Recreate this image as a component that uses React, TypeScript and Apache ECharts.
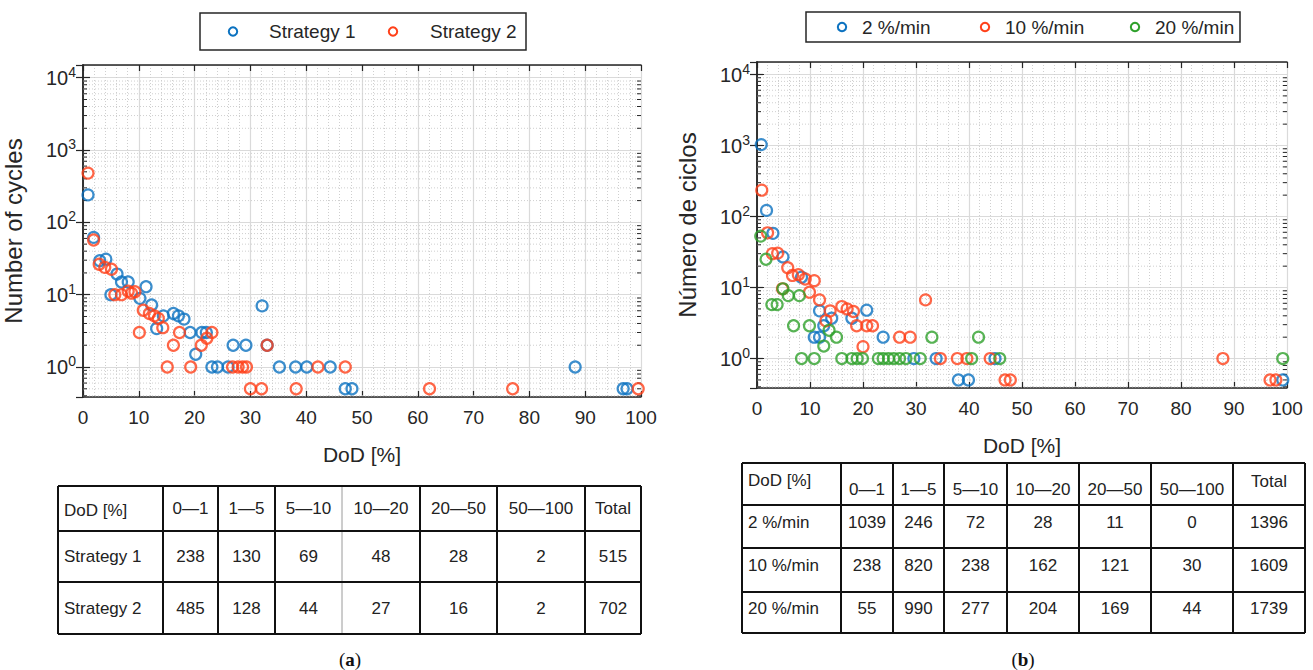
import React, { useEffect, useRef } from 'react';
import * as echarts from 'echarts';

// ---------- data ----------
const legendA = ['Strategy 1', 'Strategy 2'];
const legendB = ['2 %/min', '10 %/min', '20 %/min'];

const strategy1: [number, number][] = [
  [0.9, 240], [1.9, 62], [3.0, 29.5], [4.1, 31], [5.0, 10], [6.1, 19.3], [6.9, 15], [8.1, 15],
  [10.2, 8.9], [11.3, 12.9], [12.3, 7.2], [13.2, 3.4], [14.4, 5.1], [16.2, 5.5], [17.1, 5.1],
  [18.1, 4.6], [19.2, 3.0], [20.2, 1.5], [21.3, 3.0], [22.1, 3.0], [23.1, 1], [24.1, 1], [26.0, 1],
  [26.9, 2], [29.2, 2], [32.1, 7], [33.0, 2], [35.2, 1], [38.1, 1], [40.1, 1], [44.3, 1],
  [47.0, 0.5], [48.2, 0.5], [88.2, 1], [96.8, 0.5], [97.5, 0.5],
];
const strategy2: [number, number][] = [
  [0.9, 480], [1.9, 57], [2.9, 26.4], [3.9, 23.9], [5.1, 22.5], [5.7, 10], [6.9, 10], [8.1, 11.2],
  [8.7, 10.5], [9.3, 11], [10.1, 3.0], [10.8, 6.1], [11.9, 5.5], [12.8, 5.1], [13.5, 4.7], [14.3, 3.5],
  [15.1, 1], [16.2, 2], [17.3, 3], [19.3, 1], [21.2, 2], [22.2, 2.5], [23.1, 3], [26.8, 1], [27.8, 1],
  [28.6, 1], [29.3, 1], [30.0, 0.5], [32.0, 0.5], [33.0, 2], [38.2, 0.5], [42.1, 1], [47.0, 1],
  [62.1, 0.5], [77.0, 0.5], [99.5, 0.5],
];
const rate2: [number, number][] = [
  [0.8, 1030], [1.8, 122], [3.0, 58], [4.9, 27], [8.4, 14], [10.8, 2], [11.8, 2], [11.8, 4.7],
  [12.6, 2.9], [14.1, 3.7], [17.9, 3.7], [20.7, 4.8], [23.8, 2], [29.6, 1], [33.8, 1], [44.9, 1],
  [38.0, 0.5], [39.9, 0.5], [99.2, 0.5],
];
const rate10: [number, number][] = [
  [0.9, 235], [2.0, 59], [2.9, 30], [3.9, 30.5], [4.8, 9.6], [5.8, 19], [6.7, 14.8], [7.8, 15.2],
  [9.1, 13.2], [9.9, 8.6], [10.8, 12.5], [11.8, 6.7], [13.0, 3.4], [13.8, 4.7], [16.0, 5.4], [17.0, 5.0],
  [18.2, 4.6], [18.8, 2.9], [20.0, 1.47], [20.7, 2.9], [21.8, 2.9], [26.9, 2], [28.9, 2], [31.8, 6.7],
  [34.6, 1], [37.8, 1], [39.6, 1], [44.0, 1], [46.8, 0.5], [47.8, 0.5], [87.9, 1], [96.8, 0.5], [97.9, 0.5],
];
const rate20: [number, number][] = [
  [0.7, 53], [1.7, 25], [2.8, 5.75], [3.8, 5.75], [4.9, 9.6], [5.9, 7.7], [6.9, 2.9], [8.0, 7.7],
  [9.9, 2.9], [8.4, 1], [10.8, 1], [12.6, 1.5], [13.6, 2.5], [15.0, 2], [16.0, 1], [17.9, 1], [18.9, 1],
  [19.9, 1], [22.9, 1], [23.8, 1], [24.8, 1], [25.8, 1], [26.9, 1], [28.1, 1], [30.8, 1], [33.0, 2],
  [40.5, 1], [41.8, 2], [45.8, 1], [99.2, 1],
];

const tableHeaders = ['DoD [%]', '0—1', '1—5', '5—10', '10—20', '20—50', '50—100', 'Total'];
const tableARows = ['Strategy 1', 'Strategy 2'];
const tableAValues = [
  [238, 130, 69, 48, 28, 2, 515],
  [485, 128, 44, 27, 16, 2, 702],
];
const tableBRows = ['2 %/min', '10 %/min', '20 %/min'];
const tableBValues = [
  [1039, 246, 72, 28, 11, 0, 1396],
  [238, 820, 238, 162, 121, 30, 1609],
  [55, 990, 277, 204, 169, 44, 1739],
];
const captions = ['a', 'b'];
const yNames = ['Number of cycles', 'Número de ciclos'];
const xName = 'DoD [%]';

// ---------- style ----------
const FONT = '"Liberation Sans", Arial, sans-serif';
const INK = '#262626';
const BLUE = '#0b72c0';
const RED = '#ff4019';
const GREEN = '#2ea02a';
const Y_MIN = 0.385;
const Y_MAX = 15000;

const minorYValues: number[] = [];
for (let e = -1; e <= 3; e++) {
  for (let m = 2; m <= 9; m++) {
    const v = m * Math.pow(10, e);
    if (v > Y_MIN && v < Y_MAX) minorYValues.push(v);
  }
}

function yLabel(v: number) {
  const l = Math.log10(v);
  const e = Math.round(l);
  if (Math.abs(l - e) > 1e-6) return '';
  return `{b|10}{s|${e}}`;
}

function makeAxes(gi: number) {
  const xBottom = {
    type: 'value', gridIndex: gi, min: 0, max: 100, interval: 10, position: 'bottom',
    axisLine: { show: true, lineStyle: { color: INK, width: 1.5 } },
    axisTick: { show: true, inside: true, length: 6, lineStyle: { color: INK, width: 1.2 } },
    axisLabel: { color: INK, fontSize: 19, fontFamily: FONT, margin: 11 },
    splitLine: { show: true, lineStyle: { color: '#dadada', width: 1.2 } },
    minorTick: { show: false, splitNumber: 5 },
    minorSplitLine: { show: true, lineStyle: { color: '#cfcfcf', width: 1, type: [1, 2] } },
    name: xName, nameLocation: 'middle', nameGap: 47,
    nameTextStyle: { color: INK, fontSize: 21, fontFamily: FONT },
  };
  const xTop = {
    type: 'value', gridIndex: gi, min: 0, max: 100, interval: 10, position: 'top',
    axisLine: { show: true, lineStyle: { color: INK, width: 1.5 } },
    axisTick: { show: true, inside: true, length: 6, lineStyle: { color: INK, width: 1.2 } },
    axisLabel: { show: false }, splitLine: { show: false },
  };
  const yLeft = {
    type: 'log', logBase: 10, gridIndex: gi, min: Y_MIN, max: Y_MAX, position: 'left',
    axisLine: { show: true, lineStyle: { color: INK, width: 1.5 } },
    axisTick: { show: true, inside: true, length: 7, lineStyle: { color: INK, width: 1.2 } },
    axisLabel: {
      formatter: yLabel, margin: 7, showMinLabel: false, showMaxLabel: false,
      rich: {
        b: { fontSize: 20, color: INK, fontFamily: FONT },
        s: { fontSize: 14, color: INK, fontFamily: FONT, padding: [0, 0, 12, 0] },
      },
    },
    splitLine: { show: true, lineStyle: { color: '#dadada', width: 1.2 } },
    name: yNames[gi], nameLocation: 'middle', nameGap: 58,
    nameTextStyle: { color: INK, fontSize: 24, fontFamily: FONT },
  };
  const yRight = {
    type: 'log', logBase: 10, gridIndex: gi, min: Y_MIN, max: Y_MAX, position: 'right',
    axisLine: { show: true, lineStyle: { color: INK, width: 1.5 } },
    axisTick: { show: true, inside: true, length: 7, lineStyle: { color: INK, width: 1.2 } },
    axisLabel: { show: false }, splitLine: { show: false },
  };
  return { x: [xBottom, xTop], y: [yLeft, yRight] };
}

function minorGrid(xi: number, yi: number) {
  return {
    type: 'custom', xAxisIndex: xi, yAxisIndex: yi, silent: true, z: 1,
    data: minorYValues.map((v) => [0, v]),
    renderItem: (_p: any, api: any) => {
      const v = api.value(1);
      const a = api.coord([0, v]);
      const b = api.coord([100, v]);
      return {
        type: 'group',
        children: [
          { type: 'line', shape: { x1: a[0], y1: a[1], x2: b[0], y2: b[1] }, style: { stroke: '#cfcfcf', lineWidth: 1, lineDash: [1, 2] } },
          { type: 'line', shape: { x1: a[0], y1: a[1], x2: a[0] + 4, y2: a[1] }, style: { stroke: INK, lineWidth: 1 } },
          { type: 'line', shape: { x1: b[0], y1: b[1], x2: b[0] - 4, y2: b[1] }, style: { stroke: INK, lineWidth: 1 } },
        ],
      };
    },
  };
}

function scatter(name: string, data: [number, number][], color: string, xi: number, yi: number) {
  return {
    type: 'scatter', name, data, xAxisIndex: xi, yAxisIndex: yi, symbol: 'circle', symbolSize: 11, z: 5,
    itemStyle: { color: 'transparent', borderColor: color, borderWidth: 2.2 },
  };
}

function legendBox(x: number, y: number, w: number, h: number, items: { name: string; color: string; cx: number; tx: number }[], fs: number) {
  const els: any[] = [
    { type: 'rect', shape: { x, y, width: w, height: h }, style: { fill: '#fff', stroke: INK, lineWidth: 1.5 }, z: 100 },
  ];
  const cy = y + h / 2;
  items.forEach((it) => {
    els.push({ type: 'circle', shape: { cx: it.cx, cy, r: 4.2 }, style: { fill: 'none', stroke: it.color, lineWidth: 2 }, z: 101 });
    els.push({ type: 'text', x: it.tx, y: cy, style: { text: it.name, fill: INK, font: `${fs}px ${FONT}`, verticalAlign: 'middle', align: 'left' }, z: 101 });
  });
  return els;
}

function table(cols: number[], rows: number[], rowLabels: string[], values: number[][], grayCol: number, headerOffsets: number[], bodyFrac: number, fs: number) {
  const els: any[] = [];
  const top = rows[0];
  const bottom = rows[rows.length - 1];
  cols.forEach((cx, i) => {
    const gray = i === grayCol;
    els.push({ type: 'line', shape: { x1: cx, y1: top, x2: cx, y2: bottom }, style: { stroke: gray ? '#9a9a9a' : '#111', lineWidth: gray ? 1 : 2 }, z: 50 });
  });
  rows.forEach((ry) => {
    els.push({ type: 'line', shape: { x1: cols[0], y1: ry, x2: cols[cols.length - 1], y2: ry }, style: { stroke: '#111', lineWidth: 2 }, z: 50 });
  });
  tableHeaders.forEach((h, i) => {
    const left = i === 0;
    els.push({
      type: 'text', x: left ? cols[0] + 6 : (cols[i] + cols[i + 1]) / 2, y: top + headerOffsets[i],
      style: { text: h, fill: '#222', font: `${fs}px ${FONT}`, align: left ? 'left' : 'center', verticalAlign: 'middle' }, z: 51,
    });
  });
  rowLabels.forEach((r, ri) => {
    const y0 = rows[ri + 1];
    const y1 = rows[ri + 2];
    const ty = y0 + (y1 - y0) * bodyFrac;
    els.push({ type: 'text', x: cols[0] + 6, y: ty, style: { text: r, fill: '#222', font: `${fs}px ${FONT}`, align: 'left', verticalAlign: 'middle' }, z: 51 });
    values[ri].forEach((v, ci) => {
      els.push({
        type: 'text', x: (cols[ci + 1] + cols[ci + 2]) / 2, y: ty,
        style: { text: String(v), fill: '#222', font: `${fs}px ${FONT}`, align: 'center', verticalAlign: 'middle' }, z: 51,
      });
    });
  });
  return els;
}

function caption(letter: string, x: number, y: number) {
  return {
    type: 'text', x, y, z: 60,
    style: {
      text: `{n|(}{b|${letter}}{n|)}`, align: 'center', verticalAlign: 'middle',
      rich: {
        n: { fontFamily: '"Liberation Serif", serif', fontSize: 19, fill: '#111', color: '#111' },
        b: { fontFamily: '"Liberation Serif", serif', fontSize: 19, fontWeight: 'bold', fill: '#111', color: '#111' },
      },
    },
  };
}

export default function App() {
  const ref = useRef<HTMLDivElement>(null);
  useEffect(() => {
    if (!ref.current) return;
    const chart = echarts.init(ref.current, undefined, { renderer: 'svg' });
    const a = makeAxes(0);
    const b = makeAxes(1);
    const graphic: any[] = [
      ...legendBox(200, 13, 326, 37, [
        { name: legendA[0], color: BLUE, cx: 233, tx: 269 },
        { name: legendA[1], color: RED, cx: 393, tx: 430 },
      ], 19),
      ...legendBox(806, 12, 434, 30, [
        { name: legendB[0], color: BLUE, cx: 842, tx: 862 },
        { name: legendB[1], color: RED, cx: 985, tx: 1005 },
        { name: legendB[2], color: GREEN, cx: 1135, tx: 1155 },
      ], 19),
      ...table([58, 163, 218, 275, 342, 420, 497, 585, 641], [486, 531, 582, 634], tableARows, tableAValues, 4,
        [24, 22, 22, 22, 22, 22, 22, 22], 0.5, 17),
      ...table([742, 841, 893, 944, 1007, 1079, 1151, 1233, 1305], [463, 505, 548, 592, 633], tableBRows, tableBValues, -1,
        [17, 26, 26, 26, 26, 26, 26, 18], 0.4, 17),
      caption(captions[0], 350, 659),
      caption(captions[1], 1023, 659),
    ];
    chart.setOption({
      animation: false,
      backgroundColor: '#fff',
      grid: [
        { left: 83, top: 65, width: 558, height: 332, containLabel: false },
        { left: 757, top: 62, width: 530, height: 326, containLabel: false },
      ],
      xAxis: [a.x[0], a.x[1], b.x[0], b.x[1]],
      yAxis: [a.y[0], a.y[1], b.y[0], b.y[1]],
      series: [
        minorGrid(0, 0),
        minorGrid(2, 2),
        scatter(legendA[0], strategy1, BLUE, 0, 0),
        scatter(legendA[1], strategy2, RED, 0, 0),
        scatter(legendB[0], rate2, BLUE, 2, 2),
        scatter(legendB[1], rate10, RED, 2, 2),
        scatter(legendB[2], rate20, GREEN, 2, 2),
      ],
      graphic,
    });
    return () => chart.dispose();
  }, []);
  return <div ref={ref} style={{ position: 'fixed', left: 0, top: 0, width: 1313, height: 670 }} />;
}
